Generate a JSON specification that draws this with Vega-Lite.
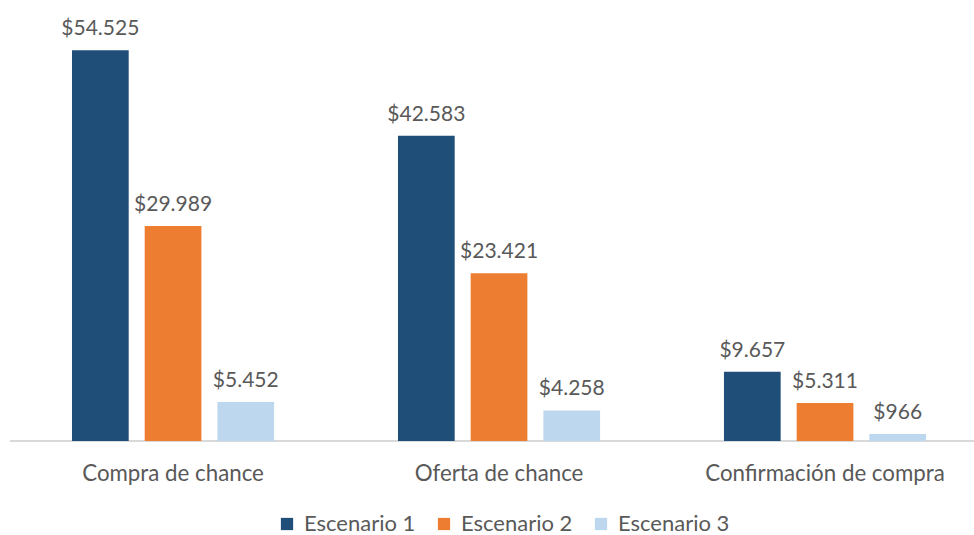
{
  "$schema": "https://vega.github.io/schema/vega-lite/v6.json",
  "width": 964,
  "height": 430,
  "autosize": {"type": "none"},
  "padding": {"left": 10, "top": 11, "right": 0, "bottom": 94},
  "background": "white",
  "data": {
    "values": [
      {"etapa": "Compra de chance", "escenario": "Escenario 1", "valor": 54525},
      {"etapa": "Compra de chance", "escenario": "Escenario 2", "valor": 29989},
      {"etapa": "Compra de chance", "escenario": "Escenario 3", "valor": 5452},
      {"etapa": "Oferta de chance", "escenario": "Escenario 1", "valor": 42583},
      {"etapa": "Oferta de chance", "escenario": "Escenario 2", "valor": 23421},
      {"etapa": "Oferta de chance", "escenario": "Escenario 3", "valor": 4258},
      {"etapa": "Confirmación de compra", "escenario": "Escenario 1", "valor": 9657},
      {"etapa": "Confirmación de compra", "escenario": "Escenario 2", "valor": 5311},
      {"etapa": "Confirmación de compra", "escenario": "Escenario 3", "valor": 966}
    ]
  },
  "encoding": {
    "x": {
      "field": "etapa",
      "type": "nominal",
      "sort": ["Compra de chance", "Oferta de chance", "Confirmación de compra"],
      "scale": {"paddingInner": 0.38, "paddingOuter": 0.1686, "align": 0.564},
      "axis": {
        "title": null,
        "labelAngle": 0,
        "ticks": false,
        "domain": false,
        "labelFont": "Lato",
        "labelFontSize": 22.3,
        "labelColor": "#595959",
        "labelPadding": 21,
        "labelLimit": 400
      }
    },
    "xOffset": {
      "field": "escenario",
      "type": "nominal",
      "scale": {"paddingInner": 0.22, "paddingOuter": 0}
    },
    "y": {
      "field": "valor",
      "type": "quantitative",
      "scale": {"domain": [0, 60000], "nice": false},
      "axis": null
    }
  },
  "layer": [
    {
      "mark": {"type": "rule", "color": "#D9D9D9", "strokeWidth": 1.5},
      "encoding": {"y": {"datum": 0}, "x": {"value": 0}, "x2": {"value": 964}, "xOffset": null}
    },
    {
      "mark": {"type": "bar"},
      "encoding": {
        "color": {
          "field": "escenario",
          "type": "nominal",
          "scale": {
            "domain": ["Escenario 1", "Escenario 2", "Escenario 3"],
            "range": ["#1F4E79", "#ED7D31", "#BDD7EE"]
          },
          "legend": {
            "title": null,
            "orient": "none",
            "legendX": 266,
            "legendY": 502,
            "direction": "horizontal",
            "symbolType": "square",
            "symbolSize": 150,
            "symbolStrokeWidth": 0,
            "labelFont": "Lato",
            "labelFontSize": 22,
            "labelColor": "#595959",
            "labelOffset": 6,
            "columnPadding": 17
          }
        }
      }
    },
    {
      "mark": {
        "type": "text",
        "baseline": "bottom",
        "dy": -11,
        "font": "Lato",
        "fontSize": 21,
        "color": "#595959"
      },
      "encoding": {
        "text": {"field": "valor", "type": "quantitative", "format": "$,.0f"}
      }
    }
  ],
  "config": {
    "view": {"stroke": null},
    "locale": {
      "number": {
        "decimal": ",",
        "thousands": ".",
        "grouping": [3],
        "currency": ["$", ""]
      }
    }
  }
}
